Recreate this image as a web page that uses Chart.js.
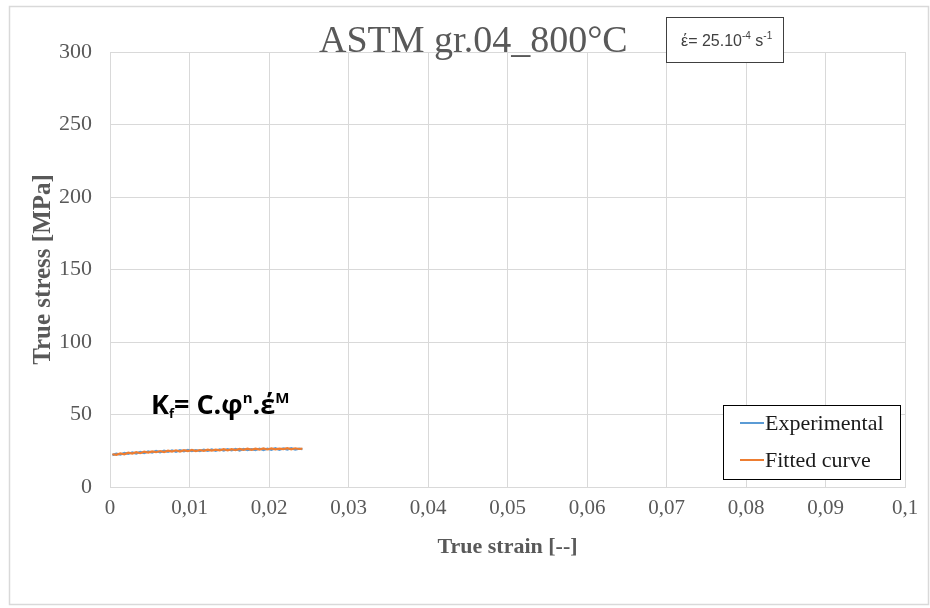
<!DOCTYPE html>
<html lang="en">
<head>
  <meta charset="UTF-8">
  <title>ASTM gr.04_800°C</title>
  <script src="https://cdn.jsdelivr.net/npm/chart.js"></script>
  <style>
    body { margin: 0; background: #fff; }
    #wrap { width: 930px; height: 608px; }
  </style>
</head>
<body>
  <div id="wrap">
    <canvas id="flowChart" width="930" height="608"></canvas>
  </div>

  <script>
    // strain / stress readings
    const strain = [0.0003, 0.0008, 0.0013, 0.0018, 0.0023, 0.0028, 0.0033, 0.0038, 0.0043, 0.0048,
      0.0053, 0.0058, 0.0063, 0.0068, 0.0073, 0.0078, 0.0083, 0.0088, 0.0093, 0.0098,
      0.0103, 0.0108, 0.0113, 0.0118, 0.0123, 0.0128, 0.0133, 0.0138, 0.0143, 0.0148,
      0.0153, 0.0158, 0.0163, 0.0168, 0.0173, 0.0178, 0.0183, 0.0188, 0.0193, 0.0198,
      0.0203, 0.0208, 0.0213, 0.0218, 0.0223, 0.0228, 0.0233, 0.0238, 0.0242];
    const experimental = [22.0, 23.0, 22.3, 23.5, 22.8, 23.9, 23.1, 24.2, 23.4, 24.5,
      23.7, 24.8, 23.9, 25.0, 24.2, 25.3, 24.3, 25.4, 24.6, 25.5,
      24.7, 25.5, 24.8, 25.8, 24.9, 25.9, 25.0, 26.0, 25.1, 26.1,
      25.2, 26.2, 25.2, 26.3, 25.4, 26.1, 25.4, 26.5, 25.5, 26.4,
      25.6, 26.7, 25.7, 26.6, 25.8, 26.8, 25.8, 26.5, 26.0];
    const fitted = [22.6, 22.2, 23.2, 22.6, 23.7, 23.0, 24.0, 23.3, 24.3, 23.7,
      24.6, 24.0, 24.8, 24.1, 25.1, 24.4, 25.3, 24.5, 25.4, 24.7,
      25.6, 24.8, 25.5, 25.0, 25.8, 25.1, 25.7, 25.3, 26.1, 25.3,
      26.1, 25.5, 26.3, 25.6, 26.4, 25.7, 26.5, 25.8, 26.6, 25.9,
      26.6, 26.0, 26.5, 26.1, 26.8, 26.0, 26.7, 26.2, 26.4];
    const seriesNames = ['Experimental', 'Fitted curve'];
    const seriesColors = ['#5b9bd5', '#ed7d31'];

    const xTicks = { min: 0, max: 0.1, step: 0.01 };
    const yTicks = { min: 0, max: 300, step: 50 };

    const titleText = 'ASTM gr.04_800°C';
    const xTitle = 'True strain [--]';
    const yTitle = 'True stress [MPa]';

    const grey = '#595959';
    const gridGrey = '#d9d9d9';

    const toPoints = arr => arr.map((v, i) => ({ x: strain[i], y: v }));

    // draws a run of [text, font, dy] pieces one after another
    function drawRuns(ctx, x, y, runs) {
      runs.forEach(([txt, font, dy]) => {
        ctx.font = font;
        ctx.fillText(txt, x, y + dy);
        x += ctx.measureText(txt).width;
      });
      return x;
    }

    const decorations = {
      id: 'decorations',
      beforeDraw(chart) {
        const ctx = chart.ctx;
        ctx.save();
        ctx.fillStyle = '#fff';
        ctx.fillRect(0, 0, chart.width, chart.height);
        ctx.strokeStyle = gridGrey;
        ctx.lineWidth = 1.5;
        ctx.strokeRect(9.5, 6.5, 919, 598);
        ctx.restore();
      },
      afterDraw(chart) {
        const ctx = chart.ctx;
        ctx.save();

        // title
        ctx.fillStyle = grey;
        ctx.textBaseline = 'alphabetic';
        ctx.textAlign = 'left';
        ctx.font = '38px "Liberation Serif"';
        ctx.fillText(titleText, 319, 52);

        // strain-rate box
        ctx.fillStyle = '#fff';
        ctx.fillRect(666, 17, 117, 45);
        ctx.strokeStyle = '#404040';
        ctx.lineWidth = 1;
        ctx.strokeRect(666.5, 17.5, 117, 45);
        ctx.fillStyle = '#404040';
        drawRuns(ctx, 681, 46, [
          ['έ= 25.10', '16px "Liberation Sans"', 0],
          ['-4', '10px "Liberation Sans"', -7],
          [' s', '16px "Liberation Sans"', 0],
          ['-1', '10px "Liberation Sans"', -7]
        ]);

        // constitutive equation
        ctx.fillStyle = '#000';
        drawRuns(ctx, 151, 414, [
          ['K', 'bold 27px "Open Sans"', 0],
          ['f', 'bold 13px "Open Sans"', 4],
          ['= C.φ', 'bold 27px "Open Sans"', 0],
          ['n', 'bold 15px "Open Sans"', -11],
          ['.έ', 'bold 27px "Open Sans"', 0],
          ['M', 'bold 15px "Open Sans"', -11]
        ]);

        // legend
        const lx = 723, ly = 405, lw = 177, lh = 74;
        ctx.fillStyle = '#fff';
        ctx.fillRect(lx, ly, lw, lh);
        ctx.strokeStyle = '#000';
        ctx.lineWidth = 1;
        ctx.strokeRect(lx + 0.5, ly + 0.5, lw, lh);
        ctx.font = '22px "Liberation Serif"';
        ctx.textBaseline = 'middle';
        chart.data.datasets.forEach((ds, i) => {
          const cy = 423 + i * 37;
          ctx.strokeStyle = ds.borderColor;
          ctx.lineWidth = 2;
          ctx.beginPath();
          ctx.moveTo(740, cy);
          ctx.lineTo(764, cy);
          ctx.stroke();
          ctx.fillStyle = '#1a1a1a';
          ctx.fillText(ds.label, 765, cy + 1);
        });
        ctx.restore();
      }
    };

    new Chart(document.getElementById('flowChart'), {
      type: 'line',
      data: {
        datasets: [
          {
            label: seriesNames[0],
            data: toPoints(experimental),
            borderColor: seriesColors[0],
            borderWidth: 2.2,
            pointRadius: 0,
            tension: 0,
            order: 1
          },
          {
            label: seriesNames[1],
            data: toPoints(fitted),
            borderColor: seriesColors[1],
            borderWidth: 2.2,
            pointRadius: 0,
            tension: 0,
            order: 0
          }
        ]
      },
      options: {
        responsive: false,
        animation: false,
        layout: { padding: { left: 10, top: 52, right: 25, bottom: 0 } },
        plugins: {
          legend: { display: false },
          tooltip: { enabled: false }
        },
        scales: {
          x: {
            type: 'linear',
            min: xTicks.min,
            max: xTicks.max,
            afterFit(scale) { scale.height = 121; },
            grid: { color: gridGrey, drawTicks: false },
            border: { color: gridGrey },
            ticks: {
              stepSize: xTicks.step,
              padding: 9,
              color: grey,
              font: { family: 'Liberation Serif', size: 21 },
              callback: v => String(Number(v.toFixed(2))).replace('.', ',')
            },
            title: {
              display: true,
              text: xTitle,
              color: grey,
              font: { family: 'Liberation Serif', size: 22, weight: 'bold' },
              padding: { top: 0, bottom: 47 }
            }
          },
          y: {
            min: yTicks.min,
            max: yTicks.max,
            afterFit(scale) { scale.width = 100; },
            grid: { color: gridGrey, drawTicks: false },
            border: { color: gridGrey },
            ticks: {
              stepSize: yTicks.step,
              padding: 18,
              color: grey,
              font: { family: 'Liberation Serif', size: 22 }
            },
            title: {
              display: true,
              text: yTitle,
              color: grey,
              font: { family: 'Liberation Serif', size: 25, weight: 'bold' },
              padding: { top: 19, bottom: 0 }
            }
          }
        }
      },
      plugins: [decorations]
    });
  </script>
</body>
</html>
